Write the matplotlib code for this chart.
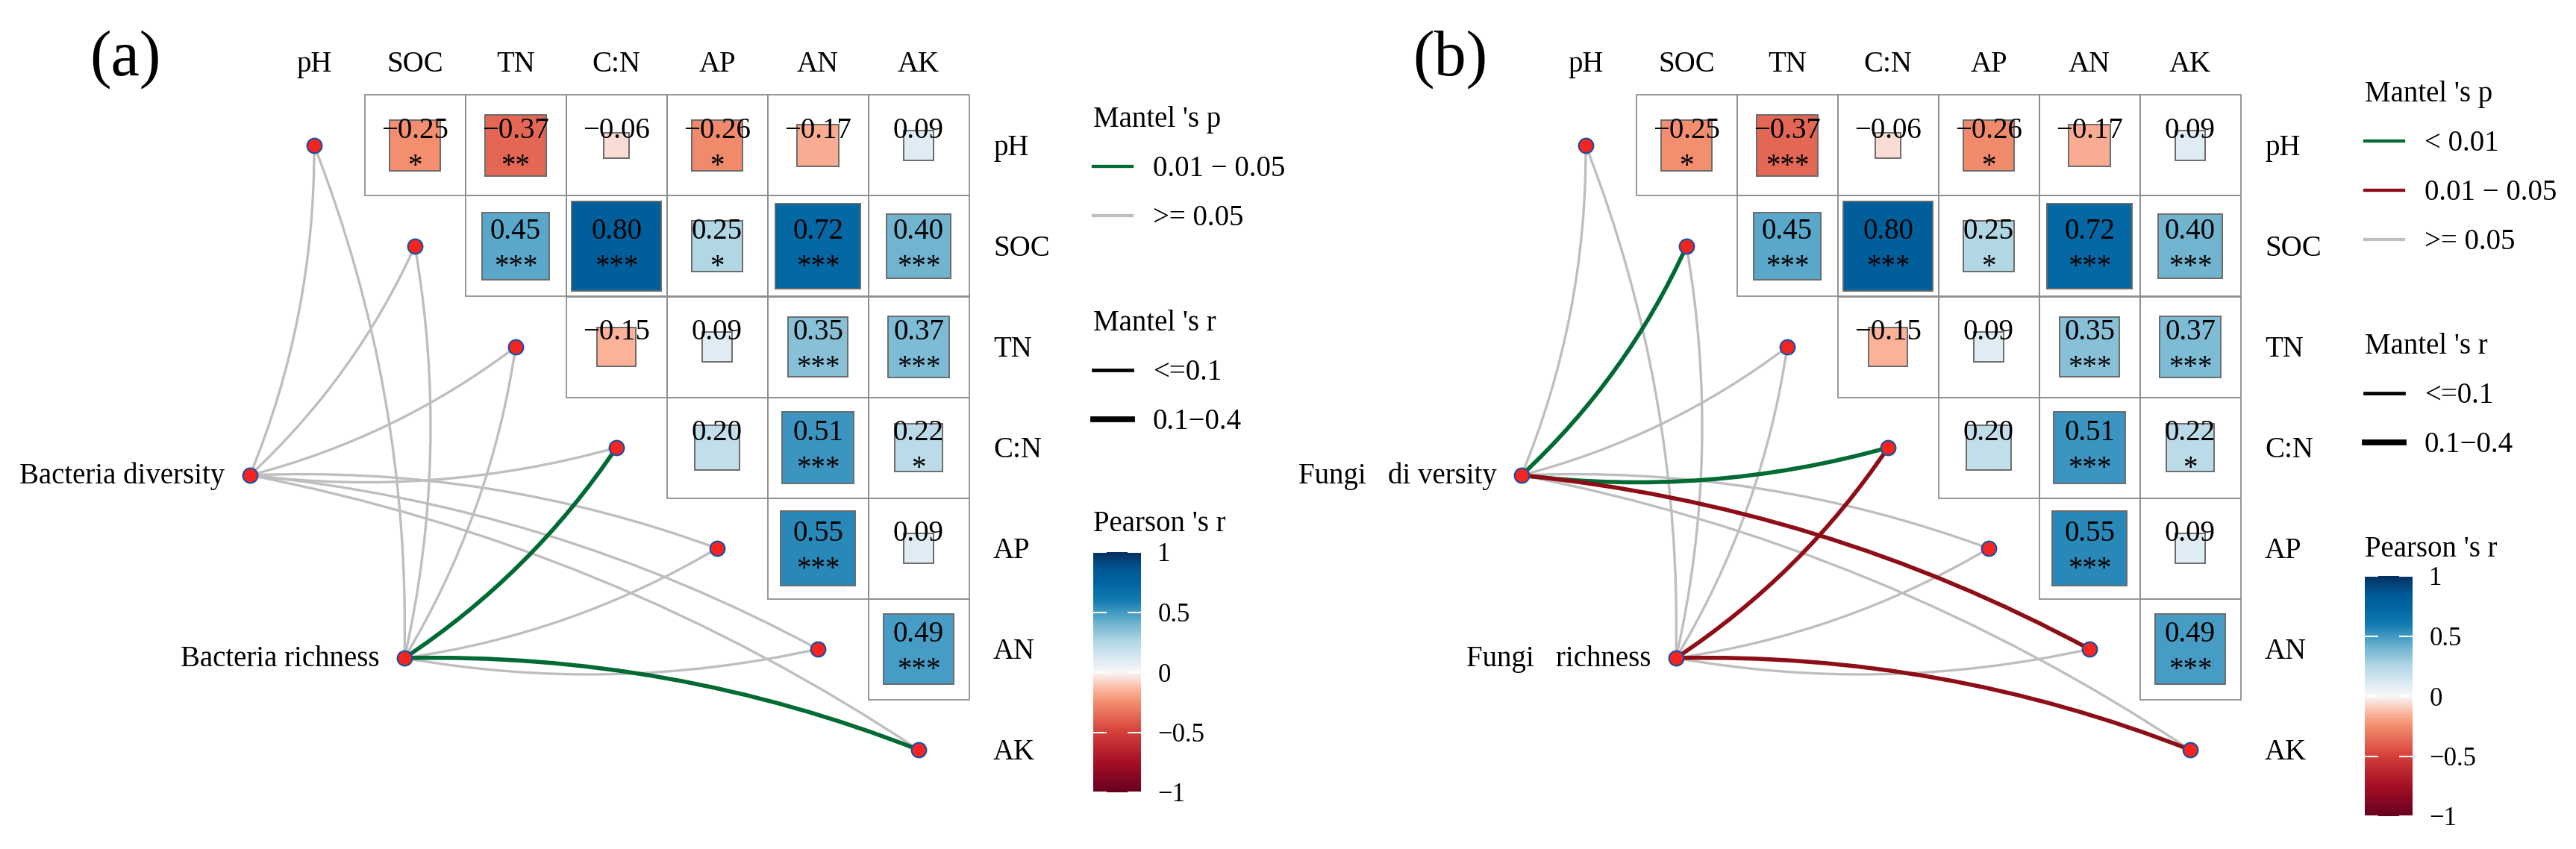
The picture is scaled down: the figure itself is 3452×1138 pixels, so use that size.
import numpy as np
import matplotlib
matplotlib.use('Agg')
import matplotlib.pyplot as plt
from matplotlib.patches import Rectangle, PathPatch
from matplotlib.path import Path
from matplotlib.lines import Line2D
from matplotlib.colors import LinearSegmentedColormap, Normalize
from matplotlib.cm import ScalarMappable

plt.rcParams['font.family'] = ['Liberation Serif', 'DejaVu Serif']

# ---------------- data ----------------
env_vars = ['pH', 'SOC', 'TN', 'C:N', 'AP', 'AN', 'AK']

# upper-triangle Pearson correlations (row index, column index into env_vars)
corr_row = [0, 0, 0, 0, 0, 0, 1, 1, 1, 1, 1, 2, 2, 2, 2, 3, 3, 3, 4, 4, 5]
corr_col = [1, 2, 3, 4, 5, 6, 2, 3, 4, 5, 6, 3, 4, 5, 6, 4, 5, 6, 5, 6, 6]
pearson_r = [-0.25, -0.37, -0.06, -0.26, -0.17, 0.09,
             0.45, 0.80, 0.25, 0.72, 0.40,
             -0.15, 0.09, 0.35, 0.37,
             0.20, 0.51, 0.22,
             0.55, 0.09,
             0.49]
stars_a = ['*', '**', '', '*', '', '',
           '***', '***', '*', '***', '***',
           '', '', '***', '***',
           '', '***', '*',
           '***', '',
           '***']
stars_b = ['*', '***', '', '*', '', '',
           '***', '***', '*', '***', '***',
           '', '', '***', '***',
           '', '***', '*',
           '***', '',
           '***']

bio_a = ['Bacteria diversity', 'Bacteria richness']
bio_b = ['Fungi   di versity', 'Fungi   richness']

# Mantel test classes for each (bio, env) link, env order as env_vars
mantel_p_a = [['>= 0.05'] * 7,
              ['>= 0.05', '>= 0.05', '>= 0.05', '0.01 − 0.05', '>= 0.05', '>= 0.05', '0.01 − 0.05']]
mantel_r_a = [['<=0.1'] * 7,
              ['<=0.1', '<=0.1', '<=0.1', '0.1−0.4', '<=0.1', '<=0.1', '0.1−0.4']]
mantel_p_b = [['>= 0.05', '< 0.01', '>= 0.05', '< 0.01', '>= 0.05', '0.01 − 0.05', '>= 0.05'],
              ['>= 0.05', '>= 0.05', '>= 0.05', '0.01 − 0.05', '>= 0.05', '>= 0.05', '0.01 − 0.05']]
mantel_r_b = [['<=0.1', '0.1−0.4', '<=0.1', '0.1−0.4', '<=0.1', '0.1−0.4', '<=0.1'],
              ['<=0.1', '<=0.1', '<=0.1', '0.1−0.4', '<=0.1', '<=0.1', '0.1−0.4']]

p_levels_a = ['0.01 − 0.05', '>= 0.05']
p_levels_b = ['< 0.01', '0.01 − 0.05', '>= 0.05']
r_levels = ['<=0.1', '0.1−0.4']
cbar_ticks = [-1, -0.5, 0, 0.5, 1]
cbar_labels = ['−1', '−0.5', '0', '0.5', '1']

# ---------------- style ----------------
W, H = 3452, 1138
DPI = 100
CELL = 135.0
FS = 28

GREEN = '#006A33'
RED = '#8E0E18'
GREY = '#BEBEBE'
p_colors_a = {'0.01 − 0.05': GREEN, '>= 0.05': GREY}
p_colors_b = {'< 0.01': GREEN, '0.01 − 0.05': RED, '>= 0.05': GREY}
r_widths = {'<=0.1': 2.4, '0.1−0.4': 4.0}
r_leg_widths = {'<=0.1': 3.4, '0.1−0.4': 5.6}

cmap = LinearSegmentedColormap.from_list('pearson', [
    (0.0, '#67001F'), (0.125, '#A50F26'), (0.25, '#D43F3A'), (0.375, '#F38D6E'),
    (0.425, '#FBB39A'), (0.5, '#F7F7F7'), (0.55, '#DDEBF3'), (0.625, '#B3D7E5'),
    (0.70, '#72B5D0'), (0.75, '#4199C3'), (0.80, '#127BB0'), (0.875, '#0064A1'),
    (0.925, '#005A96'), (1.0, '#053061')])
norm = Normalize(-1, 1)

# layout (pixels)
bio_pos = [(-0.637, 3.274), (0.896, 5.089)]  # node positions in cell units
panels = [
    dict(x0=0, tag='(a)', tag_x=168, bio=bio_a, p=mantel_p_a, r=mantel_r_a,
         levels=p_levels_a, pcol=p_colors_a, stars=stars_a,
         leg_x=1465, p_top=142, r_top=415, pear_base=712, cb_top=740),
    dict(x0=1704, tag='(b)', tag_x=1943, bio=bio_b, p=mantel_p_b, r=mantel_r_b,
         levels=p_levels_b, pcol=p_colors_b, stars=stars_b,
         leg_x=3169, p_top=108, r_top=446, pear_base=746, cb_top=772),
]

fig = plt.figure(figsize=(W / DPI, H / DPI), dpi=DPI, facecolor='white')


def fx(px):
    return px / W


def fy(py):
    return 1 - py / H


for P in panels:
    ax = fig.add_axes([fx(P['x0']), 0, 1440 / W, 1])
    ax.set_xlim(-421 / CELL, (1440 - 421) / CELL)
    ax.set_ylim((H - 195) / CELL, -195 / CELL)
    ax.axis('off')

    # labels
    for k, name in enumerate(env_vars):
        ax.text(k, -0.733, name, ha='center', va='baseline', fontsize=FS)
        ax.text(6.74, k + 0.096, name, ha='left', va='baseline', fontsize=FS)

    # correlation cells
    for i, j, r, st in zip(corr_row, corr_col, pearson_r, P['stars']):
        ax.add_patch(Rectangle((j - 0.5, i - 0.5), 1, 1, fill=False,
                               ec='#8f8f8f', lw=1.3, zorder=1))
        s = np.sqrt(abs(r))
        ax.add_patch(Rectangle((j - s / 2, i - s / 2), s, s, fc=cmap(norm(r)),
                               ec='#6b6b6b', lw=1.4, zorder=2))
        ax.text(j, i - 0.074, f'{r:.2f}'.replace('-', '\u2212'), ha='center',
                va='baseline', fontsize=FS, zorder=3)
        if st:
            ax.text(j, i + 0.28, st, ha='center', va='baseline', fontsize=FS, zorder=3)

    # mantel links
    links = []
    for b, (bx, by) in enumerate(bio_pos):
        for e in range(len(env_vars)):
            links.append((bx, by, e, P['p'][b][e], P['r'][b][e]))
    links.sort(key=lambda t: 0 if t[3] == '>= 0.05' else 1)
    for z, (bx, by, e, pc, rc) in enumerate(links):
        ex, ey = e, e
        dx, dy = ex - bx, ey - by
        sgn = 1 if dy > 0 else -1
        cx = (bx + ex) / 2 + 0.1 * sgn * dy
        cy = (by + ey) / 2 - 0.1 * sgn * dx
        path = Path([(bx, by), (cx, cy), (ex, ey)],
                    [Path.MOVETO, Path.CURVE3, Path.CURVE3])
        ax.add_patch(PathPatch(path, fc='none', ec=P['pcol'][pc],
                               lw=r_widths[rc], capstyle='round',
                               zorder=4 + (0 if pc == '>= 0.05' else 0.5)))

    # nodes
    ax.scatter(range(len(env_vars)), range(len(env_vars)), s=200, c='#F42420',
               edgecolors='#1D4FA0', linewidths=1.6, zorder=6)
    ax.scatter([p[0] for p in bio_pos], [p[1] for p in bio_pos], s=200,
               c='#F42420', edgecolors='#1D4FA0', linewidths=1.6, zorder=6)
    for (bx, by), name in zip(bio_pos, P['bio']):
        ax.text(bx - 0.25, by + 0.078, name, ha='right', va='baseline', fontsize=FS)

    # panel tag
    fig.text(fx(P['tag_x']), fy(100), P['tag'], ha='center', va='baseline', fontsize=62)

    # legends
    lx = P['leg_x']
    hp = [Line2D([], [], color=P['pcol'][lv], lw=3.1) for lv in P['levels']]
    fig.legend(hp, P['levels'], title="Mantel 's p", loc='upper left',
               bbox_to_anchor=(fx(lx), fy(P['p_top'])), frameon=False,
               fontsize=FS, title_fontsize=FS, alignment='left', borderpad=0,
               borderaxespad=0, handlelength=1.33, handletextpad=0.72,
               labelspacing=0.75)
    hr = [Line2D([], [], color='black', lw=r_leg_widths[lv]) for lv in r_levels]
    fig.legend(hr, r_levels, title="Mantel 's r", loc='upper left',
               bbox_to_anchor=(fx(lx), fy(P['r_top'])), frameon=False,
               fontsize=FS, title_fontsize=FS, alignment='left', borderpad=0,
               borderaxespad=0, handlelength=1.33, handletextpad=0.72,
               labelspacing=0.75)
    fig.text(fx(lx), fy(P['pear_base']), "Pearson 's r", ha='left',
             va='baseline', fontsize=FS)
    cax = fig.add_axes([fx(lx), fy(P['cb_top'] + 322), 64 / W, 322 / H])
    cb = fig.colorbar(ScalarMappable(norm=norm, cmap=cmap), cax=cax, ticks=cbar_ticks)
    cb.set_ticklabels(cbar_labels)
    cb.outline.set_visible(False)
    cax.tick_params(axis='y', direction='in', length=13, width=1.5, color='white',
                    left=True, right=True, labelleft=False, labelright=True,
                    labelsize=25, pad=16)

fig.savefig('out.png', dpi=DPI, facecolor='white')
